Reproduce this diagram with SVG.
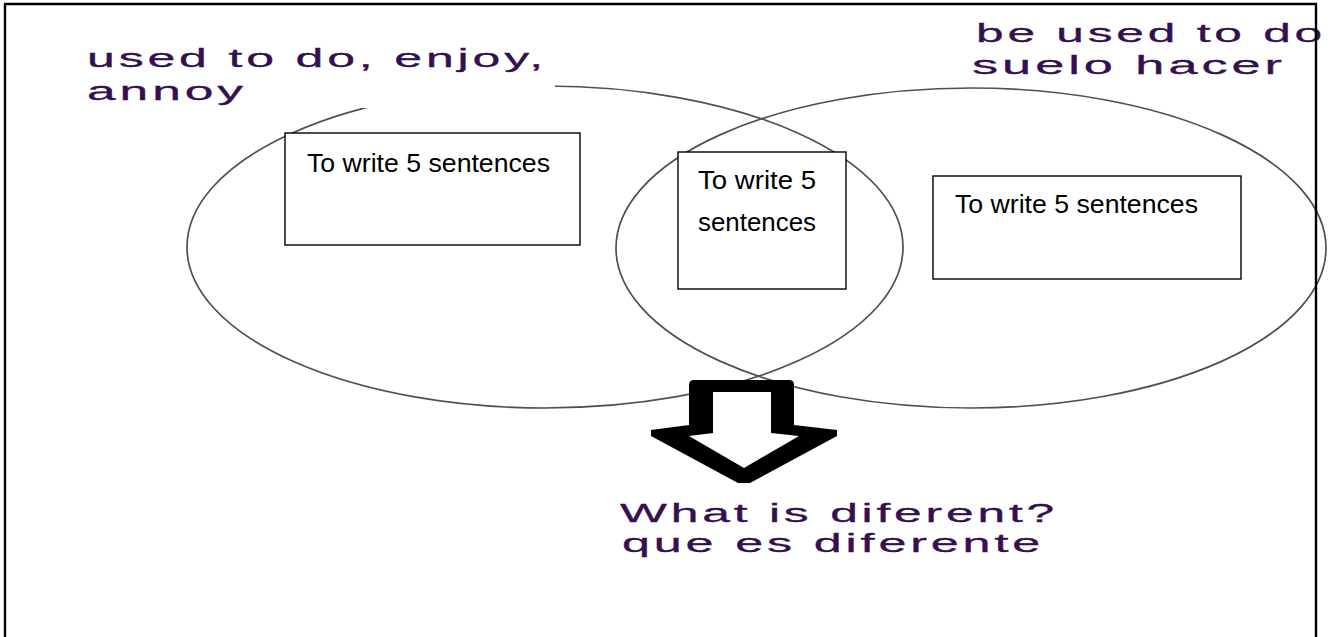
<svg xmlns="http://www.w3.org/2000/svg" width="1331" height="637" viewBox="0 0 1331 637">
  <style>
    .venn { fill: none; stroke: #505050; stroke-width: 1.7; }
    .box { fill: #ffffff; stroke: #000000; stroke-width: 1.4; }
    .boxtxt { font-family: "Liberation Sans", Arial, sans-serif; font-size: 26px; fill: #000000; }
    .head { font-family: "Liberation Sans", Arial, sans-serif; font-size: 26px; letter-spacing: 2px; fill: #33104f; stroke: #33104f; stroke-width: 0.3; }
    .cover { fill: #ffffff; stroke: none; }
  </style>
  <rect x="0" y="0" width="1331" height="637" fill="#ffffff"/>

  <g id="set-left">
    <ellipse class="venn" cx="545" cy="247" rx="358" ry="161"/>
  </g>
  <g id="set-right">
    <ellipse class="venn" cx="971" cy="248" rx="355" ry="160"/>
  </g>

  <g id="label-left">
    <rect class="cover" x="80" y="38" width="475" height="70"/>
    <text class="head" x="87" y="67" textLength="460" lengthAdjust="spacingAndGlyphs">used to do, enjoy,</text>
    <text class="head" x="87" y="100" textLength="160" lengthAdjust="spacingAndGlyphs">annoy</text>
  </g>

  <g id="label-right">
    <text class="head" x="976" y="42" textLength="350" lengthAdjust="spacingAndGlyphs">be used to do</text>
    <text class="head" x="972" y="74" textLength="314" lengthAdjust="spacingAndGlyphs">suelo hacer</text>
  </g>

  <g id="box-left">
    <rect class="box" x="285" y="133" width="295" height="112"/>
    <text class="boxtxt" x="307" y="172" textLength="243" lengthAdjust="spacingAndGlyphs">To write 5 sentences</text>
  </g>

  <g id="box-middle">
    <rect class="box" x="678" y="152" width="168" height="137"/>
    <text class="boxtxt" x="698" y="189" textLength="118" lengthAdjust="spacingAndGlyphs">To write 5</text>
    <text class="boxtxt" x="698" y="231" textLength="118" lengthAdjust="spacingAndGlyphs">sentences</text>
  </g>

  <g id="box-right">
    <rect class="box" x="933" y="176" width="308" height="103"/>
    <text class="boxtxt" x="955" y="213" textLength="243" lengthAdjust="spacingAndGlyphs">To write 5 sentences</text>
  </g>

  <g id="connectors">
    <path fill="#000000" d="M 689,385 Q 689,380 694,380 L 789,380 Q 794,380 794,385 L 794,425 L 837,430 L 837,436 L 750,483 L 738,483 L 651,436 L 651,430 L 689,425 Z"/>
    <path fill="#ffffff" d="M 713,392 L 771,392 L 771,433 L 799,436 L 744,468 L 689,436 L 713,433 Z"/>
  </g>

  <g id="label-bottom">
    <text class="head" x="620" y="522" textLength="438" lengthAdjust="spacingAndGlyphs">What is diferent?</text>
    <text class="head" x="622" y="552" textLength="422" lengthAdjust="spacingAndGlyphs">que es diferente</text>
  </g>

  <g id="frame">
    <path d="M 5,640 L 5,4 L 1316,4 L 1316,640" fill="none" stroke="#000000" stroke-width="2.4"/>
  </g>
</svg>
